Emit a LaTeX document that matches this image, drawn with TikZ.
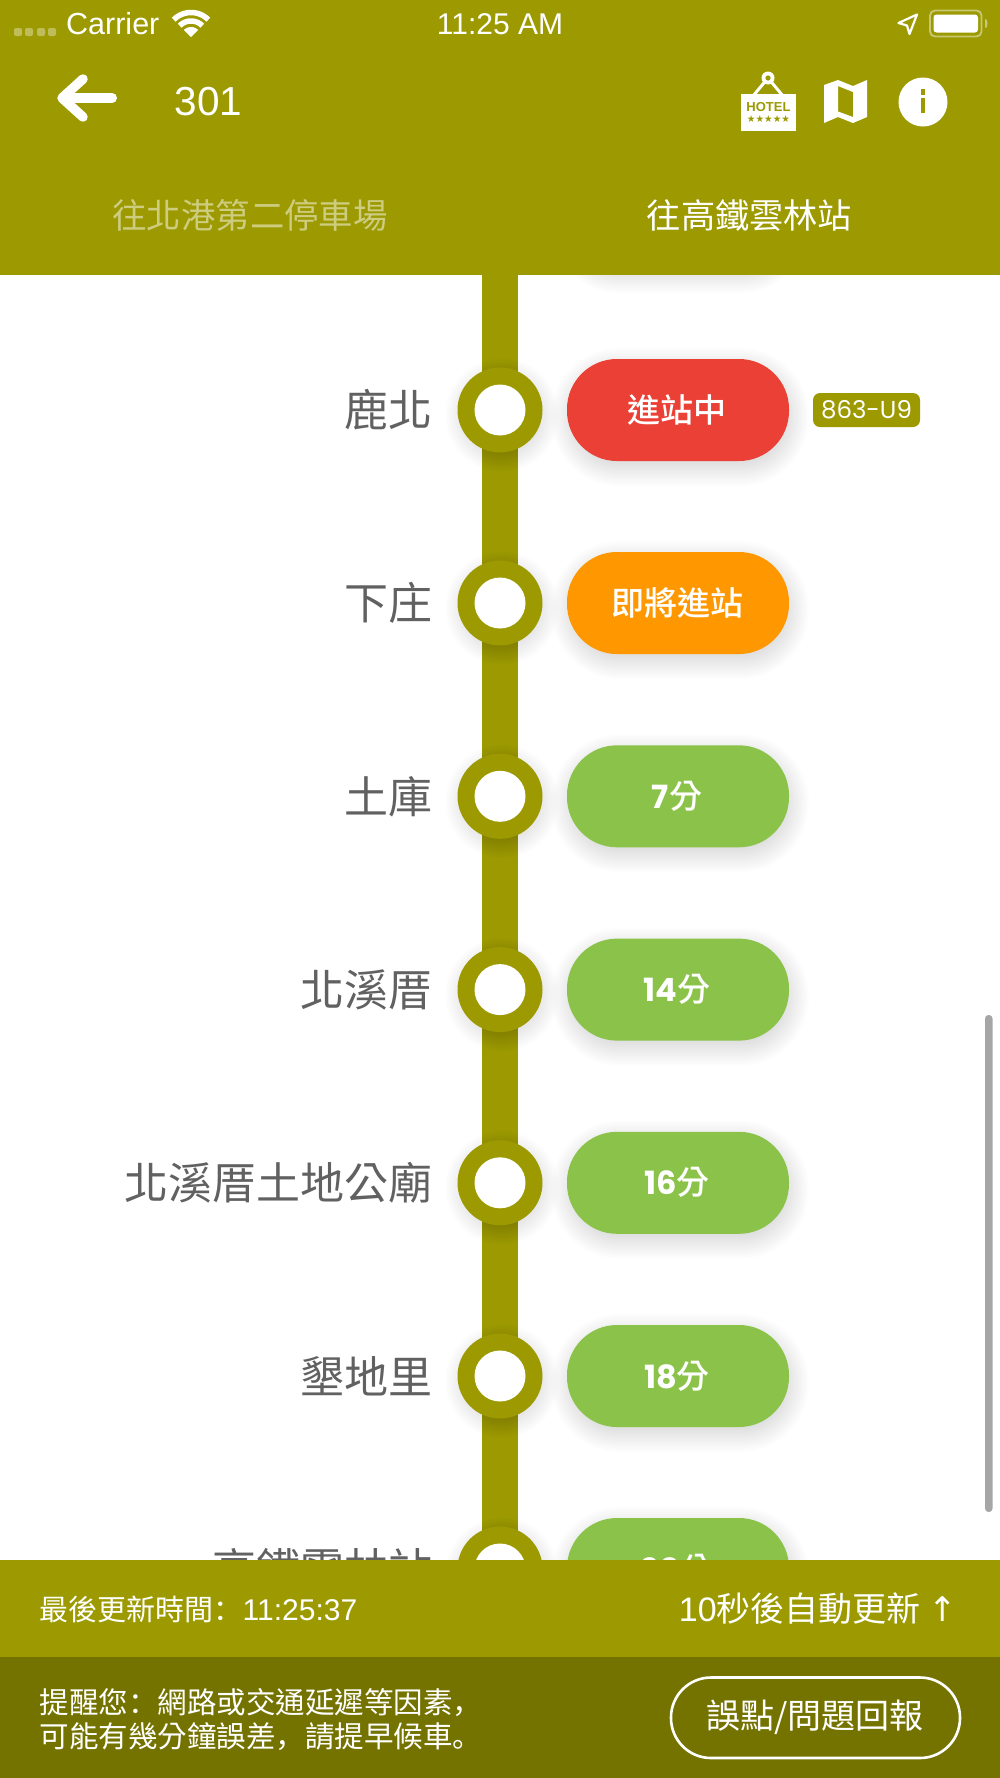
\documentclass[tikz,border=0pt]{standalone}
\usepackage{fontspec}
\setmainfont{Liberation Sans}
\newfontfamily\cjk{Noto Sans CJK TC}
\newfontfamily\cjkm{Noto Sans CJK TC Medium}
\newfontfamily\cjkp{Noto Sans CJK SC}
\newfontfamily\pop{Poppins}
\newfontfamily\dejavu{DejaVu Sans}
\newcommand\fsz[1]{\fontsize{#1}{#1}\selectfont}
\definecolor{olive}{HTML}{9C9A00}
\definecolor{darkolive}{HTML}{757300}
\definecolor{redpill}{HTML}{EA4035}
\definecolor{orangepill}{HTML}{FF9800}
\definecolor{greenpill}{HTML}{8BC34A}
\definecolor{stationgrey}{HTML}{616161}
\definecolor{scrollgrey}{HTML}{A6A6A6}
\definecolor{dimtab}{HTML}{CDCC7F}
\newcommand\softpill[4]{%
  \foreach \k in {0,...,15}{%
    \pgfmathsetmacro\ee{\k*1.6-6}%
    \pgfmathsetmacro\rr{50.5+\ee}%
    \fill[black,opacity=0.0095,rounded corners=\rr pt]
      ({#1-\ee+2},{#2-\ee+7}) rectangle ({#3+\ee+2},{#4+\ee+7});
  }}
\newcommand\softring[2]{%
  \foreach \k in {0,...,13}{%
    \pgfmathsetmacro\rr{36+\k*1.6}%
    \fill[black,opacity=0.0095] (#1+2,#2+5) circle[radius=\rr pt];
  }}
\tikzset{
  x=1pt,y=-1pt,
  label text/.style={text=white,inner sep=0pt,anchor=center},
  station name/.style={text=stationgrey,inner sep=0pt,anchor=east,font=\cjk\fsz{44}},
  pill text/.style={text=white,inner sep=0pt,anchor=center,font=\cjkm\fsz{33}},
  pillbox/.style={rounded corners=50pt},
}
\begin{document}
\begin{tikzpicture}
\useasboundingbox (0,0) rectangle (1000,1778);
\fill[white] (0,0) rectangle (1000,1778);
% route line
\fill[olive] (482,260) rectangle (518,1600);
% hidden pill shadow above
\softpill{567}{166}{789}{268}
% stations
\foreach \i/\yy/\nm/\col/\txt in {
  1/410/鹿北/redpill/進站中,
  2/603/下庄/orangepill/即將進站,
  3/796.3/土庫/greenpill/{\pop\bfseries\fsz{32}7}分,
  4/989.6/北溪厝/greenpill/{\pop\bfseries\fsz{32}14}分,
  5/1182.8/北溪厝土地公廟/greenpill/{\pop\bfseries\fsz{32}16}分,
  6/1376/墾地里/greenpill/{\pop\bfseries\fsz{32}18}分,
  7/1569/高鐵雲林站/greenpill/{\pop\bfseries\fsz{32}20}分}{
  \softring{500}{\yy}
  \fill[olive] (500,\yy) circle[radius=42.5pt];
  \fill[white] (500,\yy) circle[radius=25.5pt];
  \node[station name] (name\i) at (433,\yy) {\nm};
  \softpill{567}{\yy-51}{789}{\yy+51}
  \fill[\col,pillbox] (567,\yy-51) rectangle (789,\yy+51);
  \node[pill text] (pill\i) at (677,\yy) {\txt};
}
% bus tag
\fill[olive,rounded corners=7pt] (813,393) rectangle (920,427);
\node[label text,font=\pop\fsz{24.5}] (bus) at (866.5,410) {863-U9};
% scrollbar
\fill[scrollgrey,rounded corners=3.5pt] (985,1015) rectangle (992.5,1512);
% top bar
\fill[olive] (0,0) rectangle (1000,275);
% signal dots
\foreach \xx in {18,29,41,52}{
  \fill[white,opacity=.35,rounded corners=2pt] (\xx-4,28) rectangle (\xx+4,36);
}
\node[label text,anchor=base west,font=\fsz{30.5}] (carrier) at (66,34) {Carrier};
% wifi
\fill[white] (191,37) -- plot[domain=45:135,samples=12] ({191+10*cos(\x)},{37-10*sin(\x)}) -- cycle;
\draw[white,line width=5.5pt] plot[domain=45:135,samples=16] ({191+16*cos(\x)},{37-16*sin(\x)});
\draw[white,line width=5.5pt] plot[domain=45:135,samples=16] ({191+24.5*cos(\x)},{37-24.5*sin(\x)});
\node[label text,font=\fsz{30}] (clock) at (500,24) {11:25 AM};
% location arrow
\draw[white,line width=2.2pt,line join=round] (917,14.5) -- (898.5,23) -- (907,25.5) -- (909.5,34) -- cycle;
% battery
\draw[white,opacity=.45,line width=1.8pt,rounded corners=5pt] (930,10.5) rectangle (981.5,36.5);
\fill[white,rounded corners=3pt] (933.5,14.5) rectangle (978,32.5);
\fill[white,opacity=.45] (985,19) -- (987,20) -- (987.5,23.5) -- (987,27) -- (985,28) -- cycle;
% back arrow
\draw[white,line width=10pt,line cap=round,line join=round] (112,98) -- (63,98);
\draw[white,line width=9.5pt,line cap=round,line join=round] (83,79) -- (62,98) -- (83,117);
\node[label text,font=\fsz{40.5}] (route) at (208.5,102) {301};
% hotel icon
\draw[white,line width=3pt] (768,78) -- (753,96);
\draw[white,line width=3pt] (768,78) -- (783,96);
\fill[white] (768,78) circle[radius=6.5pt];
\fill[olive] (768,78) circle[radius=2.6pt];
\fill[white] (741,94) rectangle (796,131);
\node[inner sep=0pt,text=olive,font=\bfseries\fsz{13}] (hotel) at (768.5,107.3) {HOTEL};
\node[inner sep=0pt,text=olive,font=\dejavu\fsz{9.6}] (stars) at (768.5,119.5) {★★★★★};
% map icon
\fill[white,even odd rule] (824,85) -- (838,80) -- (853,86) -- (867,80) -- (867,117) -- (853,123) -- (838,117) -- (824,123) -- cycle
  (838,86) -- (853,92) -- (853,117) -- (838,111.5) -- cycle;
% info icon
\fill[white] (923,102) circle[radius=24.5pt];
\fill[olive] (920.5,89) rectangle (925.3,95);
\fill[olive] (920.5,98) rectangle (925.3,113);
% tabs
\node[inner sep=0pt,text=dimtab,font=\cjk\fsz{34.4}] (tab1) at (250,215) {往北港第二停車場};
\node[label text,font=\cjk\fsz{34.2}] (tab2) at (749.5,215) {往高鐵雲林站};
% bottom bars
\fill[olive] (0,1560) rectangle (1000,1657);
\fill[darkolive] (0,1657) rectangle (1000,1778);
\node[label text,anchor=west,font=\cjk\fsz{29}] (updated) at (39.5,1609) {最後更新時間{\cjkp ：}{\rmfamily\fsz{30}11:25:37}};
\node[label text,anchor=east,font=\cjk\fsz{34}] (auto) at (957,1609) {{\rmfamily 10}秒後自動更新 {\dejavu\fsz{34}↑}};
\node[label text,anchor=west,font=\cjk\fsz{29.5}] (remind1) at (39.5,1703) {提醒您{\cjkp ：}網路或交通延遲等因素{\cjkp ，}};
\node[label text,anchor=west,font=\cjk\fsz{29.5}] (remind2) at (39.5,1737) {可能有幾分鐘誤差{\cjkp ，}請提早候車{\cjkp 。}};
\draw[white,line width=2.6pt,rounded corners=40pt] (671,1677.5) rectangle (960,1758);
\node[label text,font=\cjk\fsz{34}] (report) at (815,1717) {誤點/問題回報};
\end{tikzpicture}
\end{document}
